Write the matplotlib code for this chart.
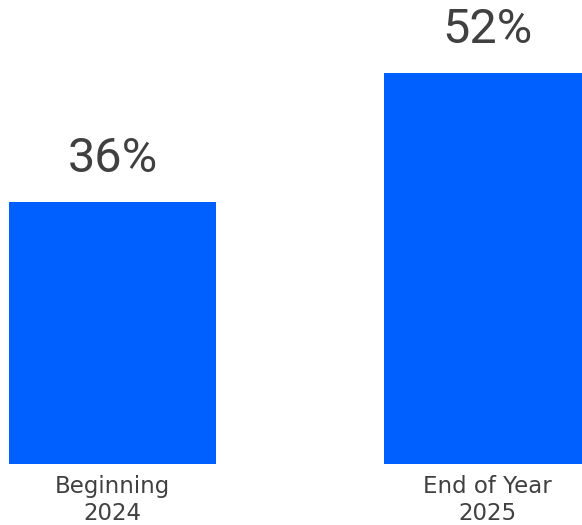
import matplotlib.pyplot as plt

# shares at the two checkpoints
categories = ["Beginning\n2024", "End of Year\n2025"]
values = [36, 52]

bar_color = "#0060FF"
text_color = "#404040"
plt.rcParams["font.family"] = ["Roboto", "DejaVu Sans"]

fig = plt.figure(figsize=(5.82, 5.25), dpi=100)
ax = fig.add_axes([0, 61 / 525, 1, 464 / 525])

xs = range(len(values))
bars = ax.bar(xs, values, width=0.552, color=bar_color, linewidth=0)

for bar, v in zip(bars, values):
    ax.annotate(f"{v}%", (bar.get_x() + bar.get_width() / 2, v),
                xytext=(0, 22), textcoords="offset points",
                ha="center", va="baseline", fontsize=35, color=text_color)

ax.set_xticks(list(xs))
ax.set_xticklabels(categories, fontsize=16.5, color=text_color,
                   family="DejaVu Sans", linespacing=1.2)
ax.tick_params(axis="x", length=0, pad=8)
ax.set_yticks([])
for s in ax.spines.values():
    s.set_visible(False)

ax.set_xlim(-0.3, 1.252)
ax.set_ylim(3.5, 61.07)

fig.savefig("out.png", dpi=100)
